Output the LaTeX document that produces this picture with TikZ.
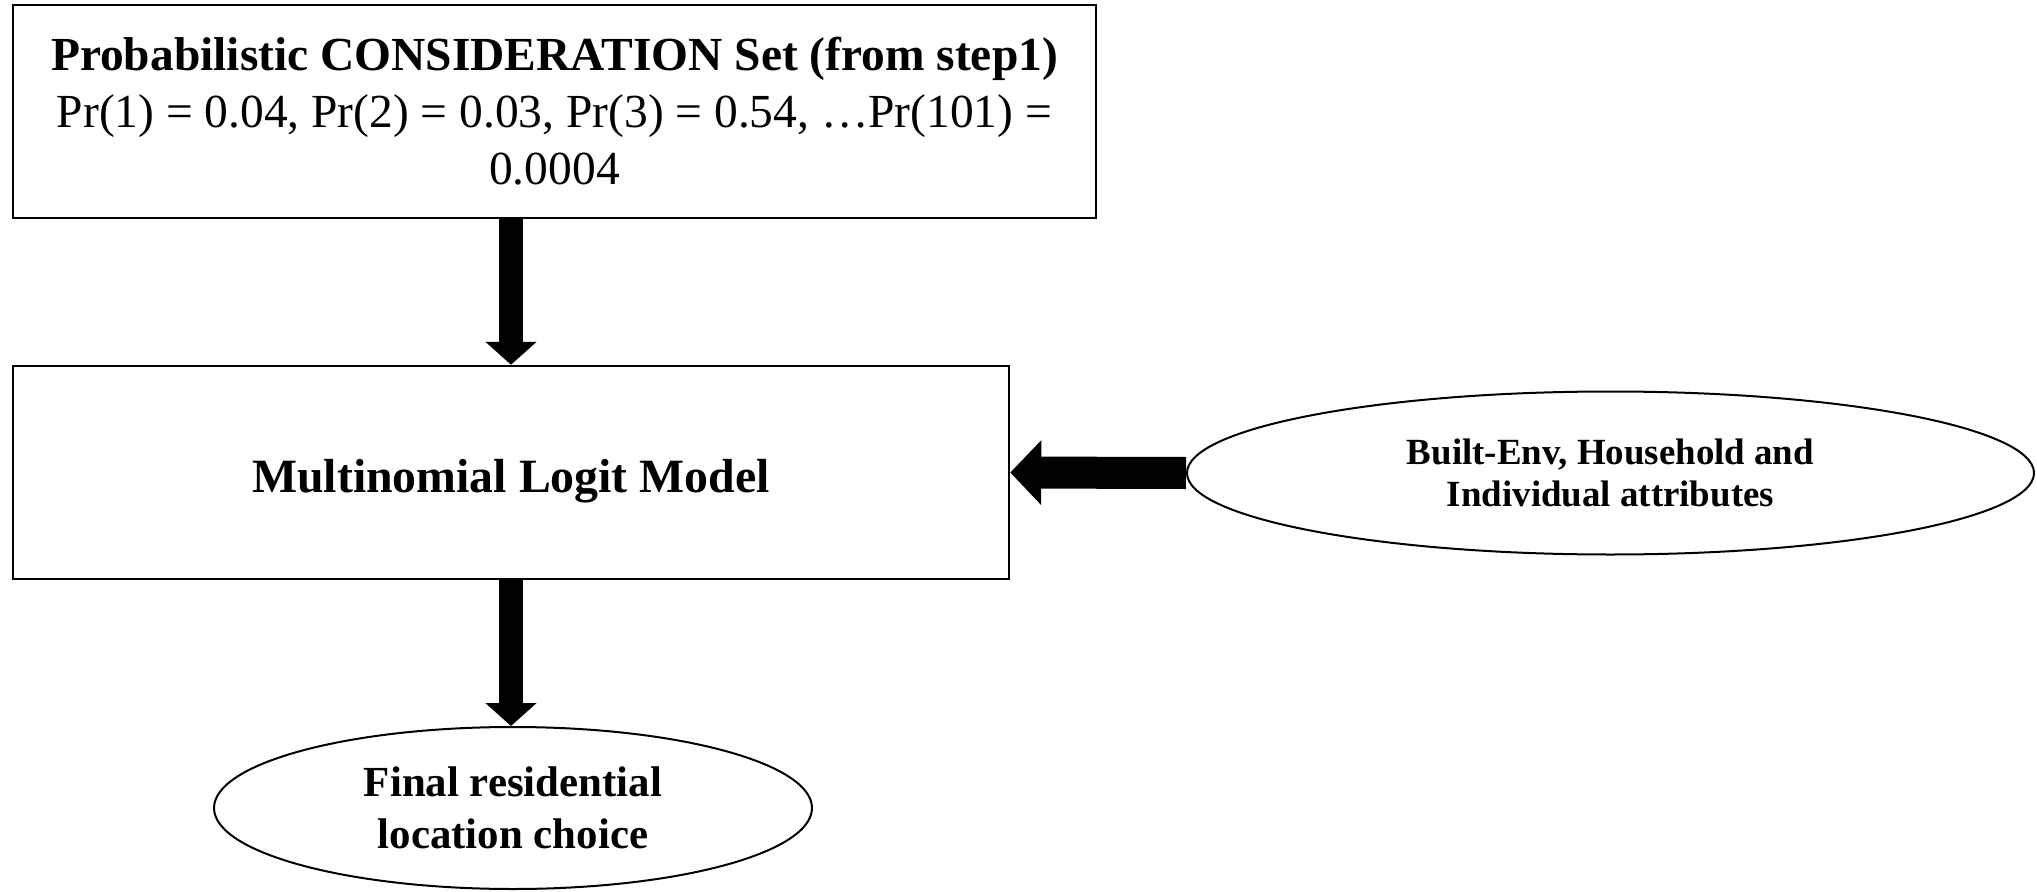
\documentclass[tikz,border=0pt]{standalone}
\usepackage{fontspec}
\setmainfont{Liberation Serif}
\usetikzlibrary{arrows.meta,shapes.geometric}

\begin{document}
\begin{tikzpicture}[
    box/.style={draw,line width=0.025cm,inner sep=0pt,align=center},
    oval/.style={draw,ellipse,line width=0.02cm,inner sep=0pt,align=center},
    vflow/.style={line width=0.24cm,-{Triangle[width=0.5cm,length=0.23cm]}},
    hflow/.style={line width=0.32cm,-{Triangle[width=0.63cm,length=0.31cm]}}]
  \useasboundingbox (0,0) rectangle (20.37,8.91);
  % step 2 boxes
  \node[box,minimum width=10.83cm,minimum height=2.13cm,
        font=\fontsize{13.5}{16.2}\selectfont] (cons) at (5.545,7.795)
    {\textbf{Probabilistic CONSIDERATION Set (from step1)}\\
     Pr(1) = 0.04, Pr(2) = 0.03, Pr(3) = 0.54, …Pr(101) =\\ 0.0004};
  \node[box,minimum width=9.96cm,minimum height=2.13cm,
        text height=0.45cm,text depth=0.05cm,
        font=\fontsize{13.6}{16.2}\selectfont\bfseries] (mnl) at (5.11,4.185)
    {Multinomial Logit Model};
  % ovals
  \node[oval,minimum width=8.47cm,minimum height=1.63cm,
        font=\fontsize{10.5}{11.8}\selectfont\bfseries] (attr) at (16.105,4.18)
    {Built-Env, Household and\\ Individual attributes};
  \node[oval,minimum width=5.98cm,minimum height=1.62cm,
        font=\fontsize{12.2}{14.8}\selectfont\bfseries] (final) at (5.13,0.83)
    {Final residential\\ location choice};
  % arrows
  \draw[vflow] (mnl.north |- cons.south) -- (mnl.north);
  \draw[hflow] (attr.west) -- (mnl.east);
  \draw[vflow] (mnl.south) -- (mnl.south |- final.north);
\end{tikzpicture}
\end{document}
